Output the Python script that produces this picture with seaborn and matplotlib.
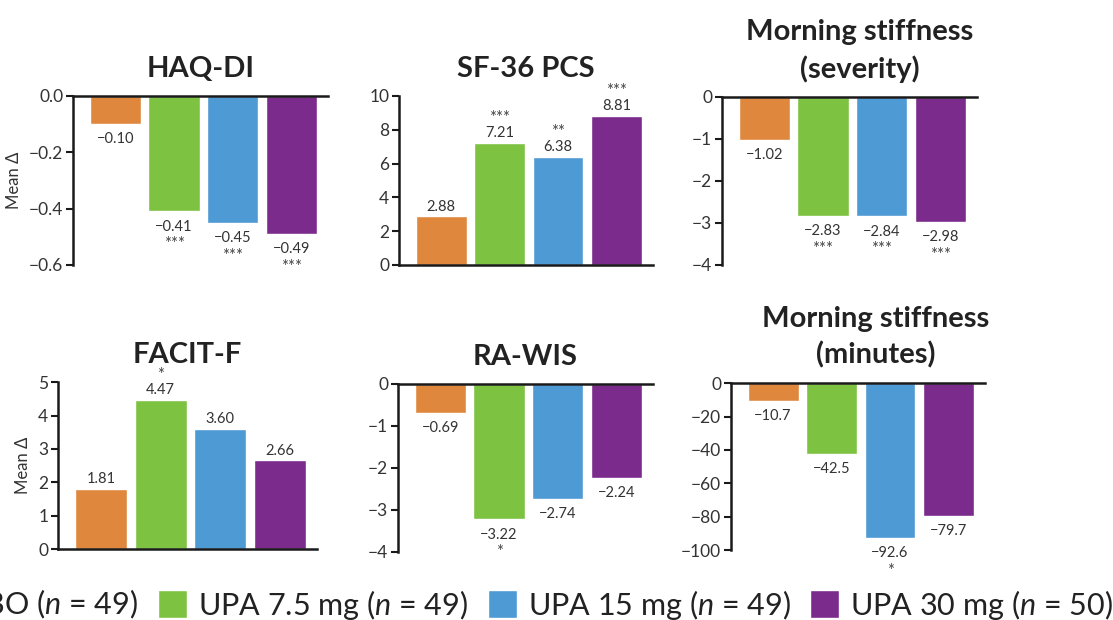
import matplotlib
matplotlib.use('Agg')
import matplotlib.pyplot as plt
import seaborn as sns
import pandas as pd
from matplotlib.patches import Patch

groups = ['PBO', 'UPA 7.5 mg', 'UPA 15 mg', 'UPA 30 mg']
group_n = [49, 49, 49, 50]

haq_di = [-0.10, -0.41, -0.45, -0.49]
haq_di_sig = ['', '***', '***', '***']
sf36_pcs = [2.88, 7.21, 6.38, 8.81]
sf36_pcs_sig = ['', '***', '**', '***']
ms_severity = [-1.02, -2.83, -2.84, -2.98]
ms_severity_sig = ['', '***', '***', '***']
facit_f = [1.81, 4.47, 3.60, 2.66]
facit_f_sig = ['', '*', '', '']
ra_wis = [-0.69, -3.22, -2.74, -2.24]
ra_wis_sig = ['', '*', '', '']
ms_minutes = [-10.7, -42.5, -92.6, -79.7]
ms_minutes_sig = ['', '', '*', '']

palette = ['#DF873D', '#7EC242', '#4E9AD5', '#7B2B8C']

sns.set_style('ticks')
plt.rcParams['font.family'] = ['Lato', 'DejaVu Sans']
plt.rcParams['mathtext.fontset'] = 'custom'
plt.rcParams['mathtext.rm'] = 'Lato'
plt.rcParams['mathtext.it'] = 'Lato:italic'

# title, values, stars, decimals, yticks, axes rect, y label, title x
panels = [
    ('HAQ-DI', haq_di, haq_di_sig, 2, [0, -0.2, -0.4, -0.6],
     [0.0656, 0.5726, 0.229, 0.2726], 'Mean Δ', 0.5),
    ('SF-36 PCS', sf36_pcs, sf36_pcs_sig, 2, [0, 2, 4, 6, 8, 10],
     [0.3585, 0.5726, 0.228, 0.2726], '', 0.5),
    ('Morning stiffness\n(severity)', ms_severity, ms_severity_sig, 2, [0, -1, -2, -3, -4],
     [0.6487, 0.5726, 0.229, 0.271], '', 0.54),
    ('FACIT-F', facit_f, facit_f_sig, 2, [0, 1, 2, 3, 4, 5],
     [0.0521, 0.1145, 0.2327, 0.269], 'Mean Δ', 0.5),
    ('RA-WIS', ra_wis, ra_wis_sig, 2, [0, -1, -2, -3, -4],
     [0.3576, 0.1097, 0.229, 0.271], '', 0.5),
    ('Morning stiffness\n(minutes)', ms_minutes, ms_minutes_sig, 1, [0, -20, -40, -60, -80, -100],
     [0.6568, 0.1129, 0.228, 0.269], '', 0.57),
]

fig = plt.figure(figsize=(11.13, 6.2), dpi=100)

for title, values, sig, dec, yticks, rect, ylabel, tx in panels:
    ax = fig.add_axes(rect)
    df = pd.DataFrame({'group': groups, 'value': values})
    sns.barplot(data=df, x='group', y='value', hue='group', palette=palette,
                saturation=1, width=0.87, legend=False, ax=ax)
    neg = values[0] < 0
    pad = 6 if neg else 2
    for i, container in enumerate(ax.containers):
        num = f'{values[i]:.{dec}f}'.replace('-', '\u2212')
        ax.bar_label(container, labels=[num], padding=pad,
                     fontsize=10.5, color='#333333')
        if sig[i]:
            ax.bar_label(container, labels=[sig[i]], padding=pad + (12 if neg else 10),
                         fontsize=12, color='#444444')
    sns.despine(ax=ax)
    ax.spines['bottom'].set_position(('data', 0))
    for s in ['left', 'bottom']:
        ax.spines[s].set_linewidth(1.8)
        ax.spines[s].set_color('#1a1a1a')
    ax.set_xticks([])
    ax.set_xlabel('')
    ax.set_xlim(-0.72, 3.62)
    ax.set_yticks(yticks)
    ax.set_ylim(min(yticks), max(yticks))
    ax.tick_params(axis='y', length=5, width=1.5, labelsize=12.5,
                   color='#1a1a1a', labelcolor='#333333', pad=2)
    ax.set_ylabel(ylabel, fontsize=12, color='#333333', labelpad=5)
    ax.set_title(title, fontsize=21, fontweight='bold', color='#222222',
                 pad=14, linespacing=1.45, x=tx)

handles = [Patch(facecolor=c, label=f'{g} ($\\it{{n}}$ = {n})')
           for g, n, c in zip(groups, group_n, palette)]
fig.legend(handles=handles, loc='center right', bbox_to_anchor=(1.011, 0.025),
           ncol=4, frameon=False, fontsize=22, handlelength=0.95, handleheight=1.0,
           handletextpad=0.35, columnspacing=0.65, borderaxespad=0,
           labelcolor='#222222')

fig.savefig('out.png', dpi=100)
